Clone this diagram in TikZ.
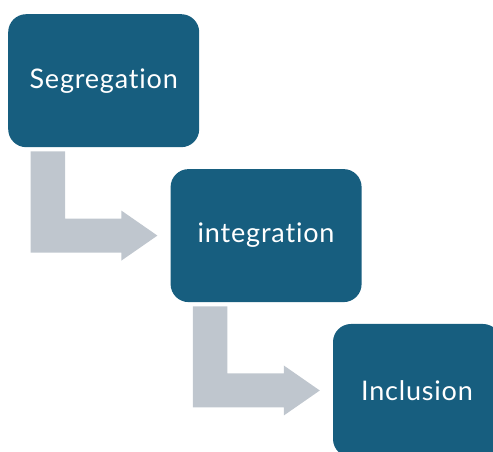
\documentclass[tikz,border=0pt]{standalone}
\usepackage{fontspec}
\setmainfont{Lato}[Ligatures=NoCommon, LetterSpace=3]
\usepackage{tikz}
\usetikzlibrary{positioning,calc}
\definecolor{boxblue}{HTML}{175E7F}
\definecolor{flowgray}{HTML}{BFC6CE}
\tikzset{
    stage/.style={
        rectangle,
        fill=boxblue,
        text=white,
        rounded corners=18pt,
        minimum width=191pt,
        minimum height=133pt,
        font=\fontsize{27}{32}\selectfont
    },
    flow/.style={
        fill=flowgray
    }
}

\begin{document}
\begin{tikzpicture}[node distance=21.5pt and -29pt]
        \useasboundingbox (0,0) rectangle (493pt,452pt);
        \clip (0,0) rectangle (493pt,452pt);

        % Nodes
        \node (seg) [stage, anchor=north west] at (8pt,438pt) {Segregation};
        \node (integ) [stage, below right=of seg] {integration};
        \node (incl) [stage, below right=of integ, minimum width=168pt] {Inclusion};

        % Arrows
        \fill[flow] ($(seg.south west)+(22.5pt,-4pt)$) coordinate (s1) -- ++(34.5pt,0)
            |- ($(integ.west)+(-49pt,17pt)$) -- ++(0,8pt) -- ($(integ.west)+(-13pt,0)$)
            -- ++(-36pt,-25pt) -- ++(0,8pt) -| (s1) -- cycle;
        \fill[flow] ($(integ.south west)+(22.5pt,-4pt)$) coordinate (s2) -- ++(34.5pt,0)
            |- ($(incl.west)+(-49pt,17pt)$) -- ++(0,8pt) -- ($(incl.west)+(-13pt,0)$)
            -- ++(-36pt,-25pt) -- ++(0,8pt) -| (s2) -- cycle;
    \end{tikzpicture}
\end{document}
